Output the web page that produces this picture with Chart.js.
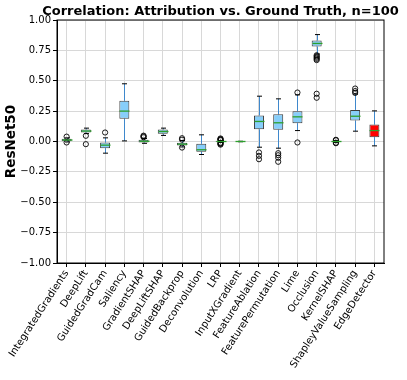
<!DOCTYPE html>
<html>
<head>
<meta charset="utf-8">
<script src="https://cdn.jsdelivr.net/npm/chart.js@4"></script>
<style>
  html, body { margin: 0; padding: 0; background: #fff; }
  #wrap { width: 407px; height: 380px; }
</style>
</head>
<body>
<div id="wrap"><canvas id="myChart" width="407" height="380"></canvas></div>
<script>
const categories = ["IntegratedGradients", "DeepLift", "GuidedGradCam", "Saliency", "GradientSHAP",
    "DeepLiftSHAP", "GuidedBackprop", "Deconvolution", "LRP", "InputXGradient", "FeatureAblation",
    "FeaturePermutation", "Lime", "Occlusion", "KernelSHAP", "ShapleyValueSampling", "EdgeDetector"];

const q1 =          [0.002, 0.074, -0.055, 0.187, -0.008, 0.063, -0.033, -0.085, -0.003, -0.001, 0.101, 0.096, 0.151, 0.782, -0.003, 0.173, 0.036];
const q3 =          [0.022, 0.099, -0.008, 0.335, 0.014, 0.099, -0.011, -0.019, 0.004, 0.001, 0.214, 0.225, 0.250, 0.831, 0.003, 0.260, 0.140];
const medians =     [0.012, 0.086, -0.030, 0.250, 0.002, 0.082, -0.022, -0.068, 0.000, 0.000, 0.165, 0.154, 0.203, 0.807, 0.000, 0.208, 0.090];
const whiskerLow =  [-0.004, 0.065, -0.096, 0.005, -0.015, 0.050, -0.045, -0.107, -0.006, -0.002, -0.047, -0.055, 0.090, 0.720, -0.006, 0.085, -0.036];
const whiskerHigh = [0.030, 0.110, 0.030, 0.475, 0.025, 0.110, 0.008, 0.055, 0.008, 0.002, 0.373, 0.351, 0.384, 0.880, 0.006, 0.390, 0.252];
const outliers = [
    [0.040, -0.008],
    [0.047, -0.022],
    [0.074],
    [],
    [0.035, 0.042, 0.048],
    [],
    [0.027, 0.015, -0.050],
    [],
    [0.025, 0.020, 0.015, 0.011, -0.010, -0.015, -0.020, -0.026],
    [],
    [-0.090, -0.118, -0.146],
    [-0.096, -0.113, -0.134, -0.167],
    [0.403, -0.008],
    [0.710, 0.700, 0.690, 0.680, 0.670, 0.393, 0.360],
    [0.014, 0.010, -0.010, -0.014],
    [0.436, 0.415, 0.400],
    []
];
const yTicks = [-1, -0.75, -0.5, -0.25, 0, 0.25, 0.5, 0.75, 1];
const chartTitle = "Correlation: Attribution vs. Ground Truth, n=100";

const whiskerColor = "#3f88cc";
const medianColor = "#2ca02c";

Chart.defaults.font.family = "'DejaVu Sans', sans-serif";
Chart.defaults.color = "#000";

const outlierPoints = [];
outliers.forEach((list, i) => {
    list.forEach(v => outlierPoints.push({ x: categories[i], y: v }));
});

// whiskers, caps, medians, the top/right frame and the title
const boxParts = {
    id: "boxParts",
    beforeDatasetsDraw(chart) {
        const { ctx, scales: { x, y } } = chart;
        ctx.save();
        ctx.strokeStyle = whiskerColor;
        ctx.lineWidth = 1;
        categories.forEach((c, i) => {
            const px = Math.round(x.getPixelForValue(i)) + 0.5;
            ctx.beginPath();
            ctx.moveTo(px, y.getPixelForValue(q3[i]));
            ctx.lineTo(px, y.getPixelForValue(whiskerHigh[i]));
            ctx.moveTo(px, y.getPixelForValue(q1[i]));
            ctx.lineTo(px, y.getPixelForValue(whiskerLow[i]));
            ctx.stroke();
        });
        ctx.restore();
    },
    afterDatasetsDraw(chart) {
        const { ctx, scales: { x, y }, chartArea } = chart;
        const bars = chart.getDatasetMeta(0).data;
        ctx.save();
        categories.forEach((c, i) => {
            const px = Math.round(x.getPixelForValue(i)) + 0.5;
            const w = bars[i].width;
            ctx.strokeStyle = "#000";
            ctx.lineWidth = 1;
            ctx.beginPath();
            ctx.moveTo(px - w / 4, y.getPixelForValue(whiskerHigh[i]));
            ctx.lineTo(px + w / 4, y.getPixelForValue(whiskerHigh[i]));
            ctx.moveTo(px - w / 4, y.getPixelForValue(whiskerLow[i]));
            ctx.lineTo(px + w / 4, y.getPixelForValue(whiskerLow[i]));
            ctx.stroke();
            ctx.strokeStyle = medianColor;
            ctx.lineWidth = 1.3;
            ctx.beginPath();
            ctx.moveTo(px - w / 2, y.getPixelForValue(medians[i]));
            ctx.lineTo(px + w / 2, y.getPixelForValue(medians[i]));
            ctx.stroke();
        });
        ctx.strokeStyle = "#000";
        ctx.lineWidth = 1;
        ctx.strokeRect(chartArea.left, chartArea.top, chartArea.right - chartArea.left, chartArea.bottom - chartArea.top);

        // title centred over the plot area (matplotlib style)
        ctx.fillStyle = "#000";
        ctx.font = "bold 13px 'DejaVu Sans', sans-serif";
        ctx.textAlign = "center";
        ctx.textBaseline = "alphabetic";
        ctx.fillText(chartTitle, (chartArea.left + chartArea.right) / 2, chartArea.top - 5);
        ctx.restore();
    }
};

const ctx = document.getElementById("myChart").getContext("2d");
const myChart = new Chart(ctx, {
    type: "bar",
    data: {
        labels: categories,
        datasets: [{
            data: categories.map((c, i) => [q1[i], q3[i]]),
            backgroundColor: categories.map((c, i) => i === categories.length - 1 ? "#ff0000" : "#87cefa"),
            borderColor: "#3c3c3c",
            borderWidth: 1,
            borderSkipped: false,
            categoryPercentage: 1,
            barPercentage: 0.52,
            order: 1
        }, {
            type: "line",
            data: outlierPoints,
            showLine: false,
            pointRadius: 2.6,
            pointBorderWidth: 0.9,
            pointBorderColor: "#000",
            pointBackgroundColor: "rgba(0,0,0,0)",
            order: 0
        }]
    },
    options: {
        responsive: false,
        animation: false,
        layout: { padding: { left: 0, right: 23, top: 20, bottom: 0 } },
        plugins: {
            legend: { display: false },
            tooltip: { enabled: false },
            title: { display: false }
        },
        scales: {
            x: {
                afterFit(scale) { scale.height = 117; },
                grid: { offset: false, color: "#d8d8d8", tickColor: "#000", tickLength: 4 },
                border: { color: "#000" },
                ticks: { autoSkip: false, minRotation: 57, maxRotation: 57, font: { size: 10 }, color: "#000", padding: 1 }
            },
            y: {
                min: -1,
                max: 1,
                afterFit(scale) { scale.width = 57; },
                afterBuildTicks(scale) { scale.ticks = yTicks.map(v => ({ value: v })); },
                grid: { color: "#d8d8d8", tickColor: "#000", tickLength: 4 },
                border: { color: "#000" },
                ticks: {
                    font: { size: 10 },
                    color: "#000",
                    padding: 2,
                    callback: v => (v < 0 ? "\u2212" : "") + Math.abs(v).toFixed(2)
                },
                title: {
                    display: true,
                    text: "ResNet50",
                    font: { size: 13.5, weight: "bold" },
                    color: "#000",
                    padding: { top: 3, bottom: 0 }
                }
            }
        }
    },
    plugins: [boxParts]
});
</script>
</body>
</html>
